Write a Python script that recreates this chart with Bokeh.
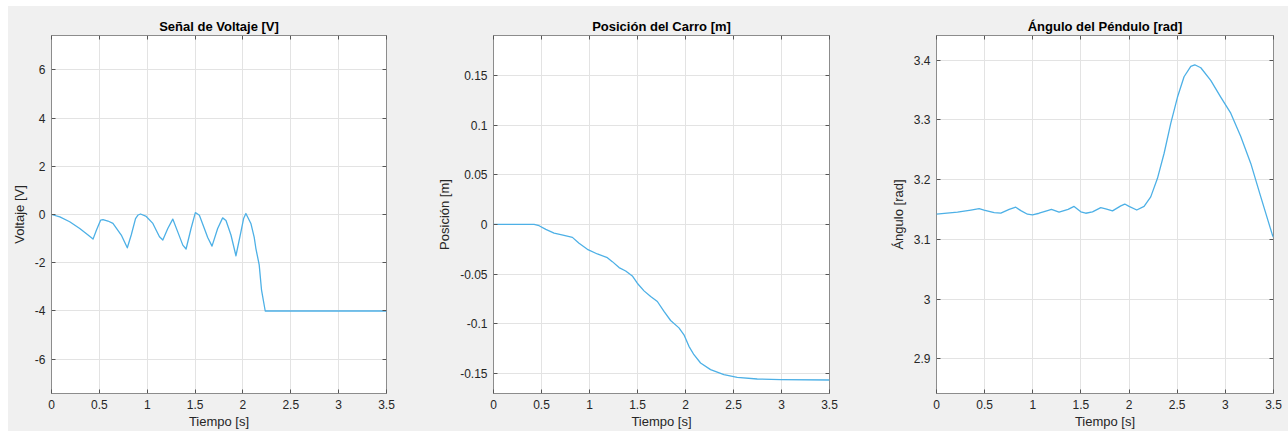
from bokeh.plotting import figure
from bokeh.layouts import row
from bokeh.models import LinearAxis, Range1d, FixedTicker, Grid, CustomLabelingPolicy
from bokeh.embed import file_html
from bokeh.resources import INLINE

# ---- data ----
t_volt = [0, 0.087, 0.19, 0.295, 0.382, 0.434, 0.469, 0.514, 0.538, 0.59, 0.642, 0.729,
          0.792, 0.833, 0.878, 0.905, 0.93, 0.99, 1.059, 1.094, 1.128, 1.163, 1.215, 1.267,
          1.319, 1.372, 1.406, 1.458, 1.503, 1.545, 1.597, 1.632, 1.677, 1.736, 1.788,
          1.823, 1.875, 1.927, 1.979, 2.007, 2.031, 2.083, 2.118, 2.135, 2.17, 2.194,
          2.233, 3.5]
volt = [0, -0.1, -0.3, -0.58, -0.85, -1.02, -0.65, -0.23, -0.21, -0.27, -0.37, -0.85,
        -1.38, -0.85, -0.17, -0.02, 0.02, -0.08, -0.37, -0.65, -0.92, -1.06, -0.58, -0.19,
        -0.72, -1.27, -1.43, -0.58, 0.08, -0.03, -0.58, -0.95, -1.31, -0.58, -0.14,
        -0.25, -0.85, -1.71, -0.72, -0.17, 0.04, -0.37, -0.95, -1.4, -2.09, -3.12,
        -4.0, -4.0]

t_pos = [0, 0.423, 0.475, 0.545, 0.631, 0.735, 0.822, 0.891, 0.978, 1.082, 1.186, 1.238,
         1.308, 1.377, 1.446, 1.498, 1.568, 1.637, 1.707, 1.776, 1.845, 1.932, 1.984, 2.036,
         2.088, 2.157, 2.261, 2.4, 2.539, 2.747, 2.99, 3.5]
pos = [0, 0, -0.0013, -0.005, -0.0087, -0.011, -0.013, -0.019, -0.025, -0.0297, -0.0334,
       -0.0374, -0.0434, -0.0468, -0.0518, -0.0591, -0.0668, -0.0725, -0.0775, -0.0875,
       -0.0966, -0.104, -0.111, -0.1226, -0.131, -0.1393, -0.146, -0.151, -0.1537, -0.1554,
       -0.156, -0.1564]

t_ang = [0, 0.218, 0.357, 0.443, 0.494, 0.599, 0.668, 0.755, 0.823, 0.876, 0.945, 0.997,
         1.066, 1.153, 1.194, 1.273, 1.367, 1.429, 1.499, 1.55, 1.62, 1.706, 1.758,
         1.828, 1.914, 1.955, 2.0, 2.08, 2.156, 2.225, 2.295, 2.364, 2.433, 2.503, 2.571,
         2.641, 2.682, 2.745, 2.848, 2.952, 3.056, 3.16, 3.264, 3.368, 3.489, 3.5]
ang = [3.142, 3.1454, 3.149, 3.1514, 3.149, 3.1447, 3.1437, 3.150, 3.1537, 3.148, 3.142,
       3.141, 3.1436, 3.148, 3.150, 3.1454, 3.150, 3.155, 3.146, 3.1436, 3.146,
       3.153, 3.151, 3.1475, 3.156, 3.159, 3.155, 3.149, 3.155, 3.171, 3.202, 3.244,
       3.294, 3.338, 3.372, 3.3895, 3.392, 3.387, 3.366, 3.338, 3.311, 3.272, 3.227,
       3.171, 3.107, 3.1035]

x_ticks = [0, 0.5, 1, 1.5, 2, 2.5, 3, 3.5]
volt_ticks = [-6, -4, -2, 0, 2, 4, 6]
pos_ticks = [-0.15, -0.1, -0.05, 0, 0.05, 0.1, 0.15]
ang_ticks = [2.9, 3.0, 3.1, 3.2, 3.3, 3.4]

titles = ["Señal de Voltaje [V]", "Posición del Carro [m]", "Ángulo del Péndulo [rad]"]
ylabels = ["Voltaje [V]", "Posición [m]", "Ángulo [rad]"]
xlabel = "Tiempo [s]"

LINE = "#4DB0E6"
BG = "#F0F0F0"
TXT = "#262626"
FONT = "Liberation Sans"


def tick_fmt(vals):
    return {v: ("%g" % v) for v in vals}


def style_axis(ax, ticks, labeled, label):
    ax.major_label_overrides = tick_fmt(ticks)
    ax.axis_line_color = None
    ax.major_tick_in = 4
    ax.major_tick_out = 0
    ax.major_tick_line_color = "#555555"
    ax.minor_tick_line_color = None
    ax.major_label_text_font = FONT
    ax.major_label_text_color = TXT
    if labeled:
        ax.major_label_text_font_size = "12px"
        ax.major_label_standoff = 6
        ax.axis_label = label
        ax.axis_label_text_font = FONT
        ax.axis_label_text_font_size = "13px"
        ax.axis_label_text_font_style = "normal"
        ax.axis_label_text_color = TXT
    else:
        ax.major_label_text_font_size = "0px"
        ax.major_label_standoff = 0
        ax.major_label_policy = CustomLabelingPolicy(code="return []")


def make(xs, ys, yr, yticks, title, ylabel, width, bl, br):
    p = figure(width=width, height=425, output_backend="svg", toolbar_location=None,
               x_range=Range1d(0, 3.5), y_range=Range1d(*yr),
               background_fill_color="white", border_fill_color=BG,
               min_border_left=bl, min_border_right=br, min_border_top=29,
               min_border_bottom=37, x_axis_location=None, y_axis_location=None)
    p.title.text = title
    p.title.align = "center"
    p.title.text_font = FONT
    p.title.text_font_size = "13px"
    p.title.text_font_style = "bold"
    p.title.text_color = "black"
    p.title.standoff = 4

    p.outline_line_color = "#8c8c8c"
    p.outline_line_width = 1

    for loc, labeled in (("below", True), ("above", False)):
        ax = LinearAxis(ticker=FixedTicker(ticks=x_ticks))
        style_axis(ax, x_ticks, labeled, xlabel)
        if labeled:
            ax.axis_label_standoff = 2
        p.add_layout(ax, loc)

    for loc, labeled in (("left", True), ("right", False)):
        ax = LinearAxis(ticker=FixedTicker(ticks=yticks))
        style_axis(ax, yticks, labeled, ylabel)
        if labeled:
            ax.axis_label_standoff = 5
        p.add_layout(ax, loc)

    p.add_layout(Grid(dimension=0, ticker=FixedTicker(ticks=x_ticks), grid_line_color="#e3e3e3"))
    p.add_layout(Grid(dimension=1, ticker=FixedTicker(ticks=yticks), grid_line_color="#e3e3e3"))

    p.line(xs, ys, line_color=LINE, line_width=1.3, line_join="round")
    return p


p1 = make(t_volt, volt, (-7.42, 7.42), volt_ticks, titles[0], ylabels[0], 422, 42, 44)
p2 = make(t_pos, pos, (-0.17, 0.19), pos_ticks, titles[1], ylabels[1], 430, 63, 31)
p3 = make(t_ang, ang, (2.842, 3.441), ang_ticks, titles[2], ylabels[2], 428, 76, 15)

layout = row(p1, p2, p3, margin=(6, 0, 0, 8), spacing=0,
             styles={"background-color": BG})
open("out.html", "w").write(file_html(layout, INLINE))
